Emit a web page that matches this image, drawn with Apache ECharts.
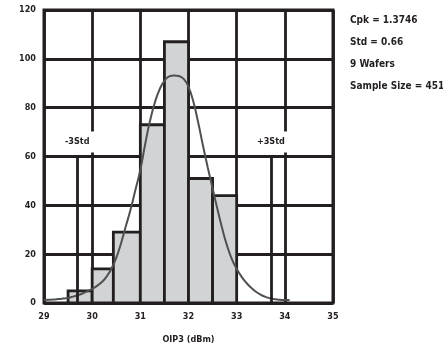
<!DOCTYPE html>
<html>
<head>
<meta charset="utf-8">
<script src="https://cdn.jsdelivr.net/npm/echarts@6/dist/echarts.min.js"></script>
<style>
  html, body { margin: 0; padding: 0; background: #fff; }
  #chart { width: 443px; height: 353px; }
</style>
</head>
<body>
<div id="chart"></div>
<script>
// Histogram bins of OIP3 (dBm): lower edge, upper edge, count
const binStart = [29.5, 30.0, 30.44, 31.0, 31.5, 32.0, 32.5];
const binEnd   = [30.0, 30.44, 31.0, 31.5, 32.0, 32.5, 33.0];
const binCount = [5, 14, 29, 73, 107, 51, 44];

// Fitted distribution curve, sampled every 0.1 dBm (OIP3, count)
const curveX = [29.0, 29.1, 29.2, 29.3, 29.4, 29.5, 29.6, 29.7, 29.8, 29.9,
                30.0, 30.1, 30.2, 30.3, 30.4, 30.5, 30.6, 30.7, 30.8, 30.9,
                31.0, 31.1, 31.2, 31.3, 31.4, 31.5, 31.6, 31.7, 31.8, 31.9,
                32.0, 32.1, 32.2, 32.3, 32.4, 32.5, 32.6, 32.7, 32.8, 32.9,
                33.0, 33.1, 33.2, 33.3, 33.4, 33.5, 33.6, 33.7, 33.8, 33.9,
                34.0, 34.1];
const curveY = [1.2, 1.3, 1.4, 1.6, 1.8, 2.1, 2.6, 3.2, 3.9, 4.8,
                5.8, 7.0, 8.6, 10.8, 14.0, 18.5, 24.5, 31.5, 38.5, 46.5,
                54.5, 65, 74.5, 82, 87.5, 91, 92.8, 93.2, 93, 91.8,
                88.5, 82.5, 74, 64.5, 55.5, 47, 38.5, 30.5, 23.5, 18,
                14, 10.8, 8.3, 6.3, 4.6, 3.4, 2.5, 1.9, 1.5, 1.3,
                1.2, 1.2];

// ±3 sigma limits and the height they are drawn to
const sigmaLabels = ['-3Std', '+3Std'];
const sigmaX = [29.69, 33.71];
const sigmaTop = 60;

// Axis ticks
const xTicks = [29, 30, 31, 32, 33, 34, 35];
const yTicks = [0, 20, 40, 60, 80, 100, 120];

// Summary statistics
const statLines = ['Cpk = 1.3746', 'Std = 0.66', '9 Wafers', 'Sample Size = 451'];
const xTitle = 'OIP3 (dBm)';

const INK = '#231f20';
const FONT = '"Liberation Sans Narrow", "DejaVu Sans Condensed", sans-serif';

const chart = echarts.init(document.getElementById('chart'), null, { renderer: 'canvas' });

const bins = binStart.map((s, i) => [s, binEnd[i], binCount[i]]);
const curve = curveX.map((x, i) => [x, curveY[i]]);
const sigmaData = sigmaX.map((x, i) => [
  { coord: [x, 0], label: { formatter: sigmaLabels[i] } },
  { coord: [x, sigmaTop] }
]);

const axisLabelStyle = { color: INK, fontFamily: FONT, fontWeight: 'bold', fontSize: 9 };

chart.setOption({
  animation: false,
  backgroundColor: '#fff',
  grid: {
    left: 44, right: 110, top: 10, bottom: 50,
    show: true, borderColor: INK, borderWidth: 3, backgroundColor: 'transparent'
  },
  xAxis: {
    type: 'value',
    min: xTicks[0], max: xTicks[xTicks.length - 1], interval: 1,
    name: xTitle, nameLocation: 'middle', nameGap: 32,
    nameTextStyle: { color: INK, fontFamily: FONT, fontWeight: 'bold', fontSize: 9 },
    axisLine: { show: false },
    axisTick: { show: false },
    axisLabel: Object.assign({ margin: 9 }, axisLabelStyle),
    splitLine: { show: true, lineStyle: { color: INK, width: 2.8 } }
  },
  yAxis: {
    type: 'value',
    min: yTicks[0], max: yTicks[yTicks.length - 1], interval: 20,
    axisLine: { show: false },
    axisTick: { show: false },
    axisLabel: Object.assign({ margin: 8 }, axisLabelStyle),
    splitLine: { show: true, lineStyle: { color: INK, width: 2.8 } }
  },
  series: [
    {
      type: 'custom',
      z: 2,
      data: bins,
      encode: { x: [0, 1], y: 2 },
      renderItem: function (params, api) {
        const p0 = api.coord([api.value(0), api.value(2)]);
        const p1 = api.coord([api.value(1), 0]);
        return {
          type: 'rect',
          shape: { x: p0[0], y: p0[1], width: p1[0] - p0[0], height: p1[1] - p0[1] },
          style: { fill: '#d1d3d4', stroke: INK, lineWidth: 2.8 }
        };
      }
    },
    {
      type: 'line',
      z: 4,
      data: curve,
      smooth: true,
      showSymbol: false,
      lineStyle: { color: '#505050', width: 2 },
      markLine: {
        silent: true,
        symbol: 'none',
        lineStyle: { color: INK, width: 2.8, type: 'solid' },
        label: {
          show: true, position: 'end', distance: 4,
          color: INK, fontFamily: FONT, fontWeight: 'bold', fontSize: 9,
          backgroundColor: '#fff', padding: [6, 5]
        },
        data: sigmaData
      }
    }
  ],
  graphic: statLines.map((t, i) => ({
    type: 'text',
    left: 350,
    top: 15 + i * 22,
    style: { text: t, fill: INK, font: 'bold 10px ' + FONT }
  }))
});
</script>
</body>
</html>
